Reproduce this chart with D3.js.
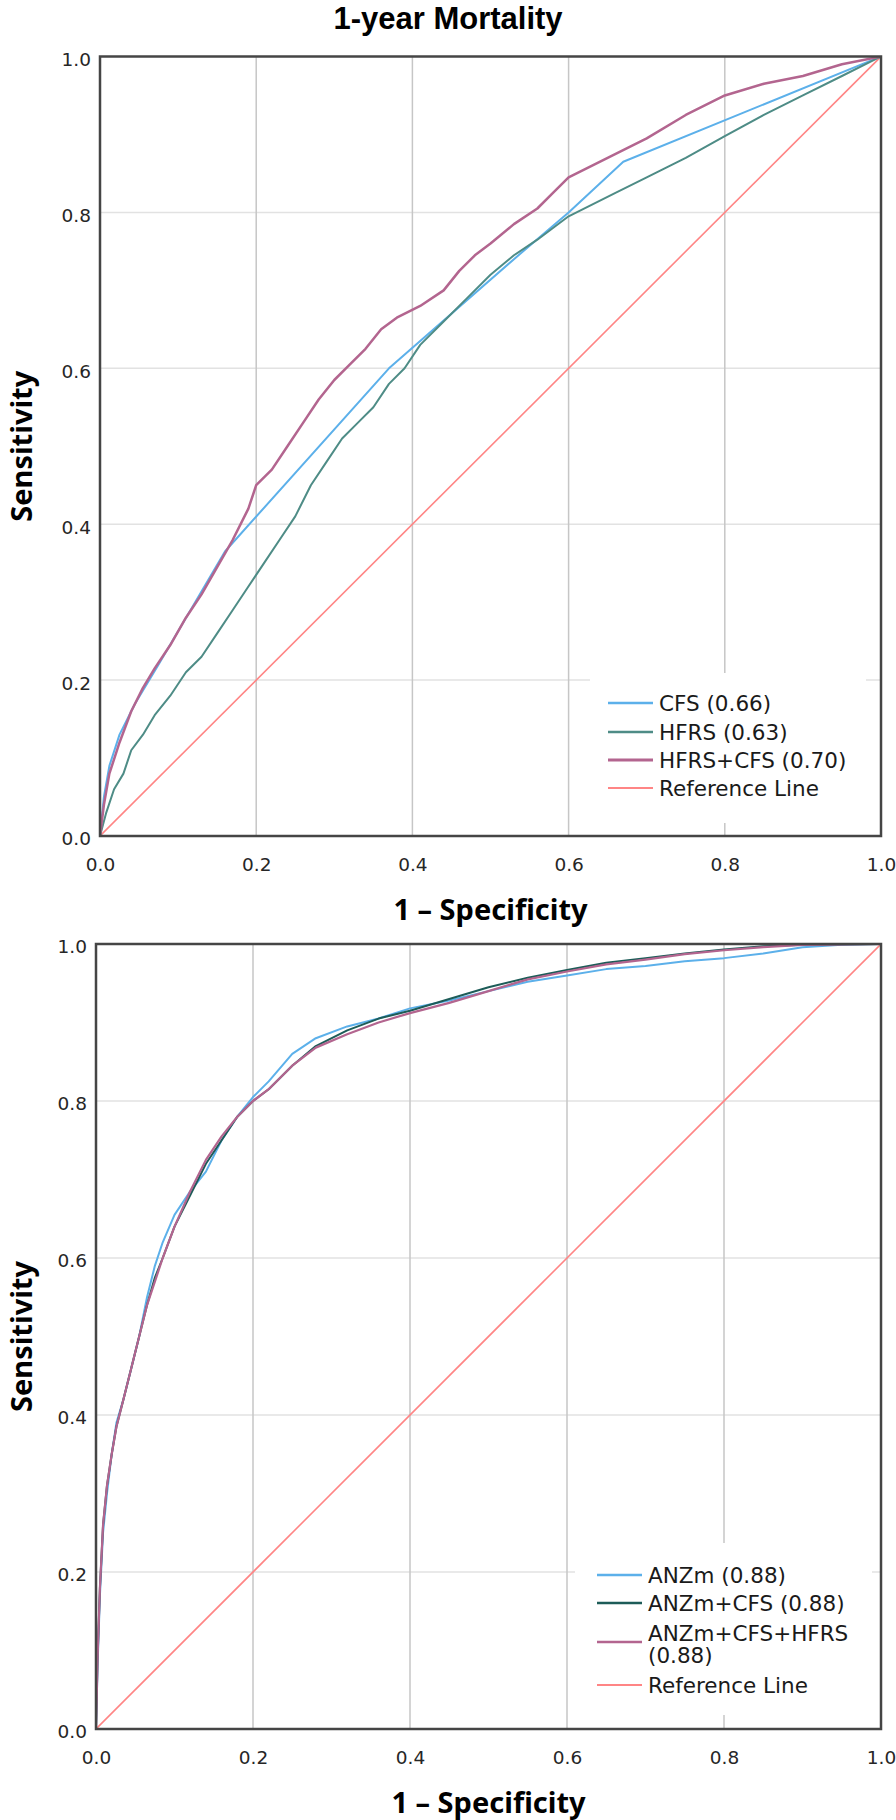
<!DOCTYPE html>
<html>
<head>
<meta charset="utf-8">
<title>1-year Mortality ROC</title>
<script src="https://cdn.jsdelivr.net/npm/d3@7"></script>
<style>
    body { margin: 0; background: #fff; }
</style>
</head>
<body>
<script>
//roc points, [1 - specificity, sensitivity]
var cfsPoints = [[0,0],[0.005,0.05],[0.012,0.09],[0.025,0.13],[0.045,0.17],[0.075,0.22],[0.16,0.365],[0.37,0.60],[0.53,0.74],[0.60,0.80],[0.67,0.865],[1,1]];
var hfrsPoints = [[0,0],[0.008,0.03],[0.018,0.06],[0.03,0.08],[0.04,0.11],[0.055,0.13],[0.07,0.155],[0.09,0.18],[0.11,0.21],[0.13,0.23],[0.15,0.26],[0.17,0.29],[0.19,0.32],[0.21,0.35],[0.23,0.38],[0.25,0.41],[0.27,0.45],[0.29,0.48],[0.31,0.51],[0.33,0.53],[0.35,0.55],[0.37,0.58],[0.39,0.60],[0.41,0.63],[0.44,0.66],[0.47,0.69],[0.50,0.72],[0.53,0.745],[0.56,0.765],[0.60,0.795],[0.63,0.81],[0.66,0.825],[0.70,0.845],[0.75,0.87],[0.80,0.898],[0.85,0.925],[0.90,0.95],[0.95,0.975],[1,1]];
var hfrsCfsPoints = [[0,0],[0.005,0.04],[0.012,0.08],[0.025,0.12],[0.04,0.16],[0.055,0.19],[0.07,0.215],[0.09,0.245],[0.11,0.28],[0.13,0.31],[0.15,0.345],[0.17,0.38],[0.19,0.42],[0.20,0.45],[0.22,0.47],[0.24,0.50],[0.26,0.53],[0.28,0.56],[0.30,0.585],[0.32,0.605],[0.34,0.625],[0.36,0.65],[0.38,0.665],[0.41,0.68],[0.44,0.70],[0.46,0.725],[0.48,0.745],[0.50,0.76],[0.53,0.785],[0.56,0.805],[0.58,0.825],[0.60,0.845],[0.65,0.87],[0.70,0.895],[0.75,0.925],[0.80,0.95],[0.85,0.965],[0.90,0.975],[0.95,0.99],[1,1]];

var anzmPoints = [[0,0],[0.002,0.08],[0.005,0.17],[0.009,0.25],[0.014,0.30],[0.02,0.35],[0.026,0.39],[0.035,0.42],[0.045,0.46],[0.055,0.50],[0.065,0.55],[0.075,0.59],[0.085,0.62],[0.10,0.655],[0.12,0.685],[0.14,0.71],[0.16,0.75],[0.18,0.78],[0.20,0.805],[0.22,0.825],[0.25,0.86],[0.28,0.88],[0.32,0.895],[0.36,0.905],[0.40,0.918],[0.45,0.928],[0.50,0.94],[0.55,0.952],[0.60,0.96],[0.65,0.968],[0.70,0.972],[0.75,0.978],[0.80,0.982],[0.85,0.988],[0.90,0.996],[0.95,0.999],[1,1]];
var anzmCfsPoints = [[0,0],[0.002,0.09],[0.005,0.18],[0.009,0.26],[0.014,0.31],[0.02,0.35],[0.026,0.385],[0.035,0.42],[0.045,0.46],[0.055,0.50],[0.065,0.54],[0.075,0.575],[0.085,0.60],[0.10,0.64],[0.12,0.68],[0.14,0.72],[0.16,0.75],[0.18,0.78],[0.20,0.80],[0.22,0.815],[0.25,0.845],[0.28,0.87],[0.32,0.89],[0.36,0.905],[0.40,0.915],[0.45,0.93],[0.50,0.945],[0.55,0.957],[0.60,0.967],[0.65,0.976],[0.70,0.982],[0.75,0.988],[0.80,0.993],[0.85,0.997],[0.90,0.999],[1,1]];
var anzmCfsHfrsPoints = [[0,0],[0.002,0.09],[0.005,0.18],[0.009,0.26],[0.014,0.31],[0.02,0.35],[0.026,0.385],[0.035,0.42],[0.045,0.46],[0.055,0.50],[0.065,0.54],[0.075,0.57],[0.085,0.60],[0.10,0.64],[0.12,0.685],[0.14,0.725],[0.16,0.755],[0.18,0.78],[0.20,0.80],[0.22,0.815],[0.25,0.845],[0.28,0.868],[0.32,0.885],[0.36,0.90],[0.40,0.912],[0.45,0.925],[0.50,0.94],[0.55,0.955],[0.60,0.965],[0.65,0.974],[0.70,0.98],[0.75,0.987],[0.80,0.992],[0.85,0.996],[0.90,0.999],[1,1]];

var referencePoints = [[0,0],[1,1]];

//legend labels
var topLabels = ["CFS (0.66)", "HFRS (0.63)", "HFRS+CFS (0.70)", "Reference Line"];
var bottomLabels = ["ANZm (0.88)", "ANZm+CFS (0.88)", "ANZm+CFS+HFRS\n(0.88)", "Reference Line"];

//tick values
var tickValues = [0, 0.2, 0.4, 0.6, 0.8, 1.0];
var gridValues = [0.2, 0.4, 0.6, 0.8];

//colours
var blue = "#5cb0ea",
    teal = "#4e8c86",
    darkTeal = "#1d5c58",
    mauve = "#b3658f",
    salmon = "#ff8585";

window.onload = drawFigure();

function drawFigure(){

    var width = 896,
        height = 1820;

    var svg = d3.select("body")
        .append("svg")
        .attr("width", width)
        .attr("height", height);

    //title up top
    svg.append("text")
        .attr("x", 448)
        .attr("y", 29)
        .attr("text-anchor", "middle")
        .style("font-family", "'Liberation Sans Narrow', 'Liberation Sans', sans-serif")
        .style("font-weight", "bold")
        .style("font-size", "31px")
        .text("1-year Mortality");

    //top panel
    drawPanel(svg, {
        left: 100, right: 881, top: 56.5, bottom: 836,
        series: [
            {points: cfsPoints, color: blue, width: 2},
            {points: hfrsPoints, color: teal, width: 2},
            {points: hfrsCfsPoints, color: mauve, width: 2.5},
            {points: referencePoints, color: salmon, width: 1.6}
        ],
        labels: topLabels,
        legend: {x0: 590, x1: 866, y0: 673, y1: 823, lineX0: 608, lineX1: 653, textX: 659, rows: [703, 732, 760, 788]}
    });

    //bottom panel
    drawPanel(svg, {
        left: 96, right: 881, top: 944, bottom: 1729,
        series: [
            {points: anzmPoints, color: blue, width: 2},
            {points: anzmCfsPoints, color: darkTeal, width: 2},
            {points: anzmCfsHfrsPoints, color: mauve, width: 2.2},
            {points: referencePoints, color: salmon, width: 1.6}
        ],
        labels: bottomLabels,
        legend: {x0: 575, x1: 872, y0: 1543, y1: 1715, lineX0: 597, lineX1: 642, textX: 648, rows: [1575, 1603, 1633, 1685]}
    });
};

function drawPanel(svg, p){

    var x = d3.scaleLinear().domain([0, 1]).range([p.left, p.right]);
    var y = d3.scaleLinear().domain([0, 1]).range([p.bottom, p.top]);

    var g = svg.append("g");

    //gridlines, vertical ones are a bit darker
    g.selectAll(".hgrid")
        .data(gridValues)
        .enter()
        .append("line")
        .attr("x1", p.left).attr("x2", p.right)
        .attr("y1", function(d){ return y(d); })
        .attr("y2", function(d){ return y(d); })
        .attr("stroke", "#e2e2e2")
        .attr("stroke-width", 1.5);

    g.selectAll(".vgrid")
        .data(gridValues)
        .enter()
        .append("line")
        .attr("y1", p.top).attr("y2", p.bottom)
        .attr("x1", function(d){ return x(d); })
        .attr("x2", function(d){ return x(d); })
        .attr("stroke", "#c6c6c6")
        .attr("stroke-width", 1.5);

    //legend box sits over the gridlines
    var lg = p.legend;
    g.append("rect")
        .attr("x", lg.x0).attr("y", lg.y0)
        .attr("width", lg.x1 - lg.x0)
        .attr("height", lg.y1 - lg.y0)
        .attr("fill", "#fff");

    //the curves
    var line = d3.line()
        .x(function(d){ return x(d[0]); })
        .y(function(d){ return y(d[1]); });

    var clipId = "clip" + Math.round(p.top);
    svg.append("clipPath")
        .attr("id", clipId)
        .append("rect")
        .attr("x", p.left).attr("y", p.top)
        .attr("width", p.right - p.left)
        .attr("height", p.bottom - p.top);

    //reference first so the curves are drawn over it
    var order = [3, 0, 1, 2];
    g.selectAll(".curve")
        .data(order.map(function(i){ return p.series[i]; }))
        .enter()
        .append("path")
        .attr("clip-path", "url(#" + clipId + ")")
        .attr("d", function(d){ return line(d.points); })
        .attr("fill", "none")
        .attr("stroke", function(d){ return d.color; })
        .attr("stroke-width", function(d){ return d.width; })
        .attr("stroke-linejoin", "round");

    //frame
    g.append("rect")
        .attr("x", p.left).attr("y", p.top)
        .attr("width", p.right - p.left)
        .attr("height", p.bottom - p.top)
        .attr("fill", "none")
        .attr("stroke", "#454545")
        .attr("stroke-width", 2.5);

    //axes, only the labels are shown
    var xAxis = d3.axisBottom(x)
        .tickValues(tickValues)
        .tickFormat(d3.format(".1f"))
        .tickSize(0)
        .tickPadding(22);
    var yAxis = d3.axisLeft(y)
        .tickValues(tickValues)
        .tickFormat(d3.format(".1f"))
        .tickSize(0)
        .tickPadding(9);

    var xg = g.append("g")
        .attr("transform", "translate(0," + p.bottom + ")")
        .call(xAxis);
    var yg = g.append("g")
        .attr("transform", "translate(" + p.left + ",3)")
        .call(yAxis);

    [xg, yg].forEach(function(a){
        a.select(".domain").remove();
        a.selectAll("text")
            .attr("fill", "#262626")
            .style("font-family", "'DejaVu Sans', sans-serif")
            .style("font-size", "18.5px");
    });

    //axis titles
    g.append("text")
        .attr("x", (p.left + p.right) / 2)
        .attr("y", p.bottom + 84)
        .attr("text-anchor", "middle")
        .style("font-family", "'Noto Sans', sans-serif")
        .style("font-weight", "bold")
        .style("font-size", "29px")
        .text("1 \u2013 Specificity");

    g.append("text")
        .attr("transform", "translate(32," + (p.top + p.bottom) / 2 + ") rotate(-90)")
        .attr("text-anchor", "middle")
        .style("font-family", "'Noto Sans', sans-serif")
        .style("font-weight", "bold")
        .style("font-size", "29px")
        .text("Sensitivity");

    //legend entries
    var rows = lg.rows;
    p.labels.forEach(function(label, i){
        var parts = label.split("\n");
        var rowY = rows[i];
        var lineY = parts.length > 1 ? rowY + 9 : rowY;
        g.append("line")
            .attr("x1", lg.lineX0).attr("x2", lg.lineX1)
            .attr("y1", lineY).attr("y2", lineY)
            .attr("stroke", p.series[i].color)
            .attr("stroke-width", p.series[i].width + 0.5);
        var t = g.append("text")
            .attr("x", lg.textX)
            .attr("y", rowY + 8)
            .attr("fill", "#1a1a1a")
            .style("font-family", "'DejaVu Sans', sans-serif")
            .style("font-size", "21.5px");
        parts.forEach(function(s, j){
            t.append("tspan")
                .attr("x", lg.textX)
                .attr("dy", j == 0 ? 0 : 22)
                .text(s);
        });
    });
}
</script>
</body>
</html>
